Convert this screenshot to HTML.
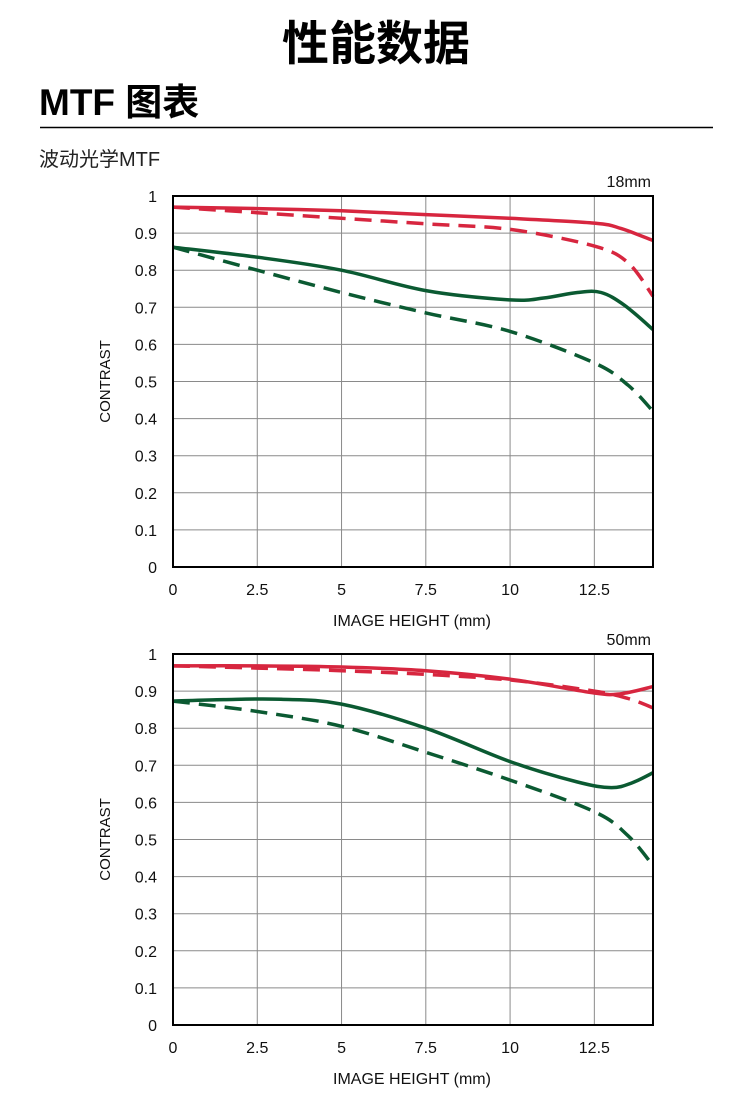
<!DOCTYPE html>
<html><head><meta charset="utf-8">
<style>
html,body{margin:0;padding:0;background:#fff;}
body{width:750px;height:1109px;overflow:hidden;position:relative;font-family:"Liberation Sans","Noto Sans CJK SC",sans-serif;}
svg{position:absolute;left:0;top:0;}
</style></head><body>
<svg id="s" width="750" height="1109" viewBox="0 0 750 1109" xmlns="http://www.w3.org/2000/svg" font-family="Liberation Sans, Noto Sans CJK SC, sans-serif">
<text x="376" y="60" text-anchor="middle" font-size="47" font-weight="bold" fill="#000">性能数据</text>
<text x="39" y="115" font-size="37" font-weight="bold" fill="#000">MTF 图表</text>
<line x1="40" y1="127.5" x2="713" y2="127.5" stroke="#000" stroke-width="1.5"/>
<text x="39" y="166" font-size="20" fill="#222">波动光学MTF</text>
</svg>
<script>
const svg=document.getElementById('s');const NS='http://www.w3.org/2000/svg';
function el(t,a,txt){const e=document.createElementNS(NS,t);for(const k in a)e.setAttribute(k,a[k]);if(txt!==undefined)e.textContent=txt;svg.appendChild(e);return e;}
const L=173,R=653,mm=(R-L)/14.24;
function path(pts,X,Y){const p=pts.map(q=>[X(q[0]),Y(q[1])]);let d='M'+p[0][0].toFixed(1)+','+p[0][1].toFixed(1);
for(let i=0;i<p.length-1;i++){const p0=p[i-1]||p[i],p1=p[i],p2=p[i+1],p3=p[i+2]||p2;
const c1=[p1[0]+(p2[0]-p0[0])/6,p1[1]+(p2[1]-p0[1])/6],c2=[p2[0]-(p3[0]-p1[0])/6,p2[1]-(p3[1]-p1[1])/6];
d+=` C${c1[0].toFixed(1)},${c1[1].toFixed(1)} ${c2[0].toFixed(1)},${c2[1].toFixed(1)} ${p2[0].toFixed(1)},${p2[1].toFixed(1)}`;}return d;}
function chart(T,B,label,series){
 const X=v=>L+v*mm,Y=v=>B-(B-T)*v;
 for(let i=1;i<10;i++)el('line',{x1:L,x2:R,y1:Y(i/10),y2:Y(i/10),stroke:'#8a8a8a','stroke-width':1});
 for(let i=1;i<=5;i++)el('line',{x1:X(i*2.5),x2:X(i*2.5),y1:T,y2:B,stroke:'#8a8a8a','stroke-width':1});
 const red='#d7263f',grn='#0b5a32';
 series.forEach(s=>el('path',{d:path(s[0],X,Y),fill:'none',stroke:s[1]=='r'?red:grn,'stroke-width':3.5,'stroke-dasharray':s[2]?'17,9':'none','stroke-linecap':'butt'}));
 el('rect',{x:L,y:T,width:R-L,height:B-T,fill:'none',stroke:'#000','stroke-width':2});
 for(let i=0;i<=10;i++){const v=i/10;el('text',{x:157,y:Y(v)+6,'text-anchor':'end','font-size':16,fill:'#111'},i==0?'0':i==10?'1':v.toFixed(1));}
 ['0','2.5','5','7.5','10','12.5'].forEach((t,i)=>el('text',{x:X(i*2.5),y:B+28,'text-anchor':'middle','font-size':16,fill:'#111'},t));
 el('text',{x:412,y:B+59,'text-anchor':'middle','font-size':16,fill:'#111'},'IMAGE HEIGHT (mm)');
 el('text',{x:R-2,y:T-9,'text-anchor':'end','font-size':16,fill:'#111'},label);
 el('text',{x:110,y:(T+B)/2,'text-anchor':'middle','font-size':15,fill:'#111',transform:`rotate(-90 110 ${(T+B)/2})`},'CONTRAST');
}
chart(196,567,'18mm',[
 [[[0,.97],[2.5,.966],[5,.96],[7.5,.95],[10,.94],[12.5,.927],[13.3,.912],[14.24,.88]],'r',0],
 [[[0,.97],[2.5,.955],[5,.94],[7.5,.925],[10,.91],[12.5,.865],[13.5,.82],[14.24,.73]],'r',1],
 [[[0,.862],[2.5,.835],[5,.80],[7.5,.745],[10,.72],[11,.725],[12,.74],[12.7,.74],[13.4,.705],[14.24,.64]],'g',0],
 [[[0,.862],[2.5,.80],[5,.74],[7.5,.685],[10,.635],[12.5,.55],[13.5,.49],[14.24,.42]],'g',1]]);
chart(654,1025,'50mm',[
 [[[0,.968],[2.5,.968],[5,.965],[7.5,.955],[10,.932],[12.5,.895],[13.3,.893],[14.24,.912]],'r',0],
 [[[0,.968],[2.5,.962],[5,.955],[7.5,.945],[10,.93],[12.5,.90],[13.5,.88],[14.24,.855]],'r',1],
 [[[0,.873],[1.5,.877],[3.2,.878],[5,.865],[7.5,.80],[10,.71],[12,.655],[13,.64],[13.6,.652],[14.24,.68]],'g',0],
 [[[0,.873],[2.5,.845],[5,.805],[7.5,.735],[10,.66],[12.5,.575],[13.5,.51],[14.24,.43]],'g',1]]);
</script>
</body></html>
